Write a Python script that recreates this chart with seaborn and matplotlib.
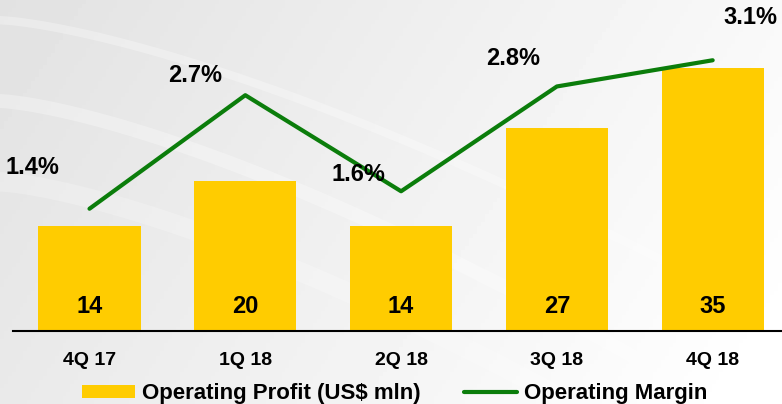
import numpy as np
import matplotlib
matplotlib.use("Agg")
import matplotlib.pyplot as plt
from matplotlib.patches import Patch
from matplotlib.lines import Line2D
import seaborn as sns

quarters = ["4Q 17", "1Q 18", "2Q 18", "3Q 18", "4Q 18"]
profit = [14, 20, 14, 27, 35]          # Operating Profit (US$ mln)
margin = [1.4, 2.7, 1.6, 2.8, 3.1]     # Operating Margin, %
margin_labels = ["1.4%", "2.7%", "1.6%", "2.8%", "3.1%"]

YELLOW = "#FFCC00"
GREEN = "#0B7D0B"

sns.set_theme(style="white")
plt.rcParams["font.family"] = ["Liberation Sans", "DejaVu Sans"]
plt.rcParams["font.weight"] = "bold"
plt.rcParams["text.color"] = "black"
plt.rcParams["xtick.color"] = "black"

fig = plt.figure(figsize=(7.82, 4.04), dpi=100)

# fondo gris claro con degradado y unas vetas blancas en diagonal
bg = fig.add_axes([0, 0, 1, 1], zorder=-5)
gx, gy = np.meshgrid(np.linspace(0, 1, 200), np.linspace(0, 1, 100))
grad = 0.885 + 0.09 * gx + 0.03 * gy
bg.imshow(grad, cmap="gray", vmin=0, vmax=1, aspect="auto", extent=[0, 1, 0, 1])
t = np.linspace(0, 1, 100)
for a, b, w, al in [(0.75, -0.1, 10, 0.30), (0.95, 0.2, 6, 0.30), (0.55, -0.3, 14, 0.22)]:
    bg.plot(t, a - (a - b) * t ** 1.4, color="white", lw=w, alpha=al)
bg.set_xlim(0, 1)
bg.set_ylim(0, 1)
bg.axis("off")

ax = fig.add_axes([13 / 782, 73 / 404, 769 / 782, 331 / 404])
ax.patch.set_alpha(0)
sns.barplot(x=quarters, y=profit, color=YELLOW, saturation=1, width=0.655,
            edgecolor="none", linewidth=0, ax=ax)
ax.set_xlim(-0.491, 4.445)
ax.set_ylim(0, 44.0)
ax.set_xlabel("")
ax.set_ylabel("")
ax.set_yticks([])
ax.tick_params(axis="x", length=0, pad=15, labelsize=14, labelcolor="black")
for lbl in ax.get_xticklabels():
    lbl.set_fontweight("bold")
for s in ["top", "left", "right"]:
    ax.spines[s].set_visible(False)
ax.spines["bottom"].set_color("black")
ax.spines["bottom"].set_linewidth(1.5)

for i, v in enumerate(profit):
    ax.annotate(str(v), (i, 0), xytext=(0, 24.5), textcoords="offset pixels",
                ha="center", va="center", fontsize=17, fontweight="bold", color="black")

ax2 = ax.twinx()
ax2.set_ylim(0, 3.79)
sns.lineplot(x=list(range(len(quarters))), y=margin, color=GREEN, linewidth=3.0, ax=ax2)
ax2.set_yticks([])
ax2.set_ylabel("")
for s in ["top", "left", "right", "bottom"]:
    ax2.spines[s].set_visible(False)

label_offsets = [(-57, 41), (-50, 20), (-43, 17), (-44, 28), (38, 43)]
for i, (v, t) in enumerate(zip(margin, margin_labels)):
    ax2.annotate(t, (i, v), xytext=label_offsets[i], textcoords="offset pixels",
                 ha="center", va="center", fontsize=17, fontweight="bold", color="black")

handles = [Patch(facecolor=YELLOW, edgecolor="none"),
           Line2D([0], [0], color=GREEN, linewidth=3.0)]
fig.legend(handles, ["Operating Profit (US$ mln)", "Operating Margin"],
           loc="center left", bbox_to_anchor=(82 / 782, 10 / 404), ncol=2, frameon=False,
           prop={"weight": "bold", "size": 16},
           borderpad=0, borderaxespad=0,
           handlelength=2.39, handleheight=0.54, handletextpad=0.32, columnspacing=1.95)

fig.savefig("out.png", dpi=100)
